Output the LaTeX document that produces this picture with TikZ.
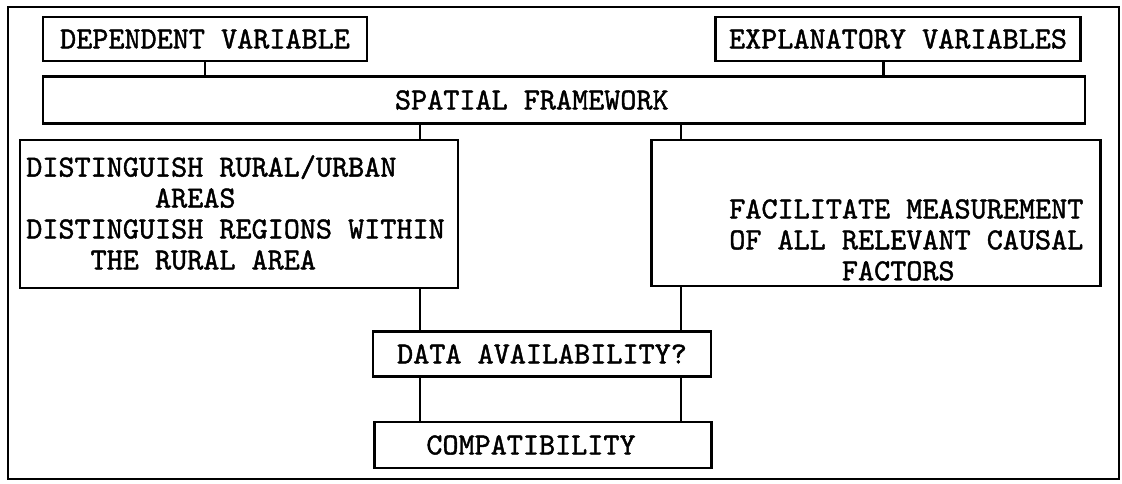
\documentclass[tikz,border=0pt]{standalone}
\usepackage{fontspec}
\newfontfamily\typeface{lmmono10-regular}[Extension=.otf, AutoFakeBold=1.4]
\newcommand{\typer}{\typeface\bfseries\fontsize{21.8}{22}\selectfont}

\tikzset{
  blk/.style={draw, line width=1.9pt, inner sep=0pt, font=\typer},
  lbl/.style={inner sep=0pt, align=left, font=\typer},
  link/.style={line width=1.9pt}
}

\begin{document}
\begin{tikzpicture}[x=0.025cm, y=-0.025cm]
  \useasboundingbox (0,0) rectangle (1122,483);
  \draw[link] (8,7) rectangle (1119,479);

  % top row
  \node[blk, minimum width=8.1cm, minimum height=1.1cm] (depvar) at (205,39) {DEPENDENT VARIABLE};
  \node[blk, minimum width=9.125cm, minimum height=1.1cm] (expvar) at (898,39) {EXPLANATORY VARIABLES};
  \node[blk, minimum width=26.05cm, minimum height=1.175cm] (spatial) at (564,100) {SPATIAL FRAMEWORK\phantom{XXXX}};

  % the two aims
  \node[blk, minimum width=10.95cm, minimum height=3.7cm] (rural) at (239,214) {};
  \node[lbl, anchor=north west] (ruraltxt) at (26,155) {DISTINGUISH RURAL/URBAN\\
    \phantom{XXXXXXXX}AREAS\\
    DISTINGUISH REGIONS WITHIN\\
    \phantom{XXXX}THE RURAL AREA};
  \node[blk, minimum width=11.225cm, minimum height=3.65cm] (causal) at (876,213) {};
  \node[lbl, anchor=north west] (causaltxt) at (729,199) {FACILITATE MEASUREMENT\\
    OF ALL RELEVANT CAUSAL\\
    \phantom{XXXXXXX}FACTORS};

  % bottom boxes
  \node[blk, minimum width=8.45cm, minimum height=1.125cm] (avail) at (542,354) {DATA AVAILABILITY?};
  \node[blk, minimum width=8.425cm, minimum height=1.15cm] (compat) at (543,445) {COMPATIBILITY\hspace*{0.6cm}};

  \coordinate (lcol) at (420,0);
  \coordinate (rcol) at (681,0);
  \coordinate (expfoot) at ([xshift=-0.36cm]expvar.south);

  \draw[link] (depvar.south) -- (depvar.south |- spatial.north);
  \draw[link] (expfoot) -- (expfoot |- spatial.north);
  \draw[link] (spatial.south -| lcol) -- (rural.north -| lcol);
  \draw[link] (spatial.south -| rcol) -- (causal.north -| rcol);
  \draw[link] (rural.south -| lcol) -- (avail.north -| lcol);
  \draw[link] (causal.south -| rcol) -- (avail.north -| rcol);
  \draw[link] (avail.south -| lcol) -- (compat.north -| lcol);
  \draw[link] (avail.south -| rcol) -- (compat.north -| rcol);
\end{tikzpicture}
\end{document}
